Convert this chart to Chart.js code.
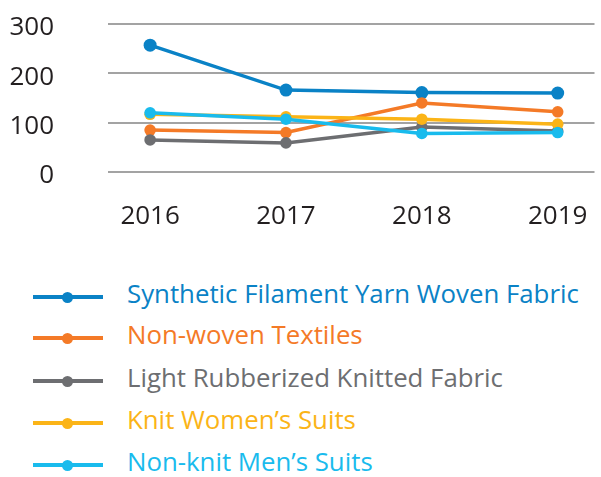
<!DOCTYPE html>
<html>
<head>
<meta charset="utf-8">
<script src="https://cdn.jsdelivr.net/npm/chart.js@4"></script>
<style>
  html, body { margin: 0; padding: 0; background: #fff; }
  body { width: 601px; height: 477px; position: relative; overflow: hidden; font-family: 'Open Sans', sans-serif; }
  #chart-wrap { position: absolute; left: 0; top: 0; width: 601px; height: 245px; }
  .legend-row { position: absolute; left: 0; width: 601px; height: 40px; }
  .legend-mark { position: absolute; left: 33px; top: 18px; width: 70px; height: 4px; }
  .legend-mark span { position: absolute; left: 29px; top: -3.5px; width: 11px; height: 11px; border-radius: 50%; }
  .legend-text { position: absolute; left: 127px; top: -4px; line-height: 40px; font-size: 25.8px; white-space: nowrap; }
</style>
</head>
<body>
<div id="chart-wrap"><canvas id="trade-chart" width="601" height="245"></canvas></div>
<div id="legend"></div>
<script>
// years on the x axis
const years = [2016, 2017, 2018, 2019];
const yTicks = [0, 100, 200, 300];

const seriesNames = [
    'Synthetic Filament Yarn Woven Fabric',
    'Non-woven Textiles',
    'Light Rubberized Knitted Fabric',
    'Knit Women\u2019s Suits',
    'Non-knit Men\u2019s Suits'
];

const syntheticFilament = [257, 166, 161, 160];
const nonWoven = [85, 80, 140, 122];
const lightRubberized = [65, 59, 91, 83];
const knitWomens = [117, 112, 107, 97];
const nonKnitMens = [120, 107, 78, 80];

const seriesValues = [syntheticFilament, nonWoven, lightRubberized, knitWomens, nonKnitMens];
const seriesColors = ['#0a82c6', '#f47a27', '#6d6e71', '#fbb417', '#19bbed'];

document.addEventListener('DOMContentLoaded', () => {
    const ctx = document.getElementById('trade-chart').getContext('2d');

    const datasets = seriesValues.map((vals, i) => ({
        label: seriesNames[i],
        data: vals.map((v, j) => ({ x: years[j], y: v })),
        borderColor: seriesColors[i],
        backgroundColor: seriesColors[i],
        pointBackgroundColor: seriesColors[i],
        pointBorderWidth: 0,
        pointRadius: i === 0 ? 6.5 : 5.8,
        borderWidth: 3.5,
        tension: 0,
        fill: false,
        // later series sit on top, like the original
        order: seriesValues.length - i
    }));

    new Chart(ctx, {
        type: 'line',
        data: { datasets },
        options: {
            responsive: false,
            animation: false,
            devicePixelRatio: 1,
            layout: { padding: { top: 24, left: 0, right: 0, bottom: 0 } },
            plugins: { legend: { display: false }, tooltip: { enabled: false } },
            scales: {
                x: {
                    type: 'linear',
                    min: 2015.69,
                    max: 2019.271,
                    grid: { display: false },
                    border: { display: false },
                    afterBuildTicks: (axis) => { axis.ticks = years.map(v => ({ value: v })); },
                    afterFit: (axis) => { axis.height = 73; axis.paddingLeft = 0; axis.paddingRight = 0; },
                    ticks: {
                        autoSkip: false,
                        maxRotation: 0,
                        padding: 21,
                        color: '#231f20',
                        font: { family: 'Open Sans', size: 26 },
                        callback: (v) => String(v)
                    }
                },
                y: {
                    min: 0,
                    max: 300,
                    grid: { color: '#a3a3a3', lineWidth: 2, drawTicks: false },
                    border: { display: false },
                    afterBuildTicks: (axis) => { axis.ticks = yTicks.map(v => ({ value: v })); },
                    afterFit: (axis) => { axis.width = 108; axis.paddingTop = 0; axis.paddingBottom = 0; },
                    ticks: {
                        padding: 54,
                        labelOffset: 4,
                        color: '#231f20',
                        font: { family: 'Open Sans', size: 26 },
                        callback: (v) => String(v)
                    }
                }
            }
        }
    });

    // legend below the chart
    const rowCenters = [297, 338, 381, 423, 465];
    const legend = document.getElementById('legend');
    seriesNames.forEach((name, i) => {
        const row = document.createElement('div');
        row.className = 'legend-row';
        row.style.top = (rowCenters[i] - 20) + 'px';
        row.innerHTML = `<div class="legend-mark" style="background:${seriesColors[i]}"><span style="background:${seriesColors[i]}"></span></div>` +
            `<div class="legend-text" style="color:${seriesColors[i]}">${name}</div>`;
        legend.appendChild(row);
    });
});
</script>
</body>
</html>
